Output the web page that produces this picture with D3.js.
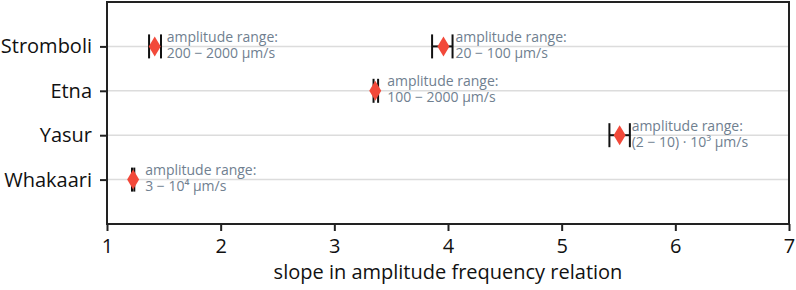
<!DOCTYPE html>
<html>
<head>
<meta charset="utf-8">
<script src="https://cdn.jsdelivr.net/npm/d3@7"></script>
<style>
  body { margin: 0; background: #fff; }
  text { font-family: "Open Sans", sans-serif; }
</style>
</head>
<body>
<div id="chart"></div>
<script>
// volcano rows, top to bottom
const volcanoes = ['Stromboli', 'Etna', 'Yasur', 'Whakaari'];

// one entry per measurement: slope estimate and its error range
const pointVolcano = ['Stromboli', 'Stromboli', 'Etna', 'Yasur', 'Whakaari'];
const slope = [1.42, 3.96, 3.36, 5.51, 1.23];
const slopeLow = [1.37, 3.86, 3.345, 5.42, 1.22];
const slopeHigh = [1.475, 4.04, 3.385, 5.60, 1.24];
const rangeLabel = [
  '200 − 2000 μm/s',
  '20 − 100 μm/s',
  '100 − 2000 μm/s',
  '(2 − 10) · 10³ μm/s',
  '3 − 10⁴ μm/s'
];

const xTicks = [1, 2, 3, 4, 5, 6, 7];

const W = 796, H = 290;
const margin = {top: 2, left: 107, right: 7, bottom: 66};
const width = W - margin.left - margin.right,
      height = H - margin.top - margin.bottom;

const svg = d3.select('#chart').append('svg')
  .attr('width', W)
  .attr('height', H);

const g = svg.append('g')
  .attr('transform', 'translate(' + margin.left + ',' + margin.top + ')');

const x = d3.scaleLinear().domain([1, 7]).range([0, width]);
const y = d3.scaleLinear().domain([0, volcanoes.length + 1]).range([0, height]);
const yOf = name => y(volcanoes.indexOf(name) + 1);

// grid lines
g.append('g').selectAll('line')
  .data(volcanoes)
  .enter().append('line')
  .attr('x1', 0).attr('x2', width)
  .attr('y1', d => yOf(d)).attr('y2', d => yOf(d))
  .attr('stroke', '#dcdcdc')
  .attr('stroke-width', 1.5);

// frame
g.append('rect')
  .attr('x', 0).attr('y', 0)
  .attr('width', width).attr('height', height)
  .attr('fill', 'none')
  .attr('stroke', '#222')
  .attr('stroke-width', 2);

// x axis
const xAxis = g.append('g')
  .attr('transform', 'translate(0,' + height + ')')
  .call(d3.axisBottom(x).tickValues(xTicks).tickSize(7).tickFormat(d3.format('d')));
xAxis.select('.domain').remove();
xAxis.selectAll('line').attr('stroke', '#222').attr('stroke-width', 2);
xAxis.selectAll('text')
  .attr('y', 29).attr('dy', null)
  .attr('font-size', 20).attr('fill', '#111');

g.append('text')
  .attr('x', width / 2)
  .attr('y', height + 55)
  .attr('text-anchor', 'middle')
  .attr('font-size', 20)
  .attr('fill', '#111')
  .text('slope in amplitude frequency relation');

// y axis
const yAxis = g.append('g')
  .call(d3.axisLeft(y).tickValues(volcanoes.map((d, i) => i + 1))
    .tickFormat(d => volcanoes[d - 1]).tickSize(7).tickPadding(8));
yAxis.select('.domain').remove();
yAxis.selectAll('line').attr('stroke', '#222').attr('stroke-width', 2);
yAxis.selectAll('text').attr('font-size', 20).attr('fill', '#111');

const idx = d3.range(slope.length);

// error bars
const eb = g.append('g').selectAll('g')
  .data(idx)
  .enter().append('g');
eb.append('line')
  .attr('x1', i => x(slopeLow[i])).attr('x2', i => x(slopeHigh[i]))
  .attr('y1', i => yOf(pointVolcano[i])).attr('y2', i => yOf(pointVolcano[i]))
  .attr('stroke', '#111').attr('stroke-width', 2);
[slopeLow, slopeHigh].forEach(arr => {
  eb.append('line')
    .attr('x1', i => x(arr[i])).attr('x2', i => x(arr[i]))
    .attr('y1', i => yOf(pointVolcano[i]) - 12).attr('y2', i => yOf(pointVolcano[i]) + 12)
    .attr('stroke', '#111').attr('stroke-width', 2);
});

// diamonds
g.append('g').selectAll('path')
  .data(idx)
  .enter().append('path')
  .attr('transform', i => 'translate(' + x(slope[i]) + ',' + yOf(pointVolcano[i]) + ')')
  .attr('d', 'M0,-10L6,0L0,10L-6,0Z')
  .attr('fill', '#f2493a');

// annotations, two lines each
const ann = g.append('g').selectAll('g')
  .data(idx)
  .enter().append('g')
  .attr('font-size', 14)
  .attr('fill', '#708090');
ann.append('text')
  .attr('x', i => x(slope[i]) + 12)
  .attr('y', i => yOf(pointVolcano[i]) - 4.5)
  .text('amplitude range:');
ann.append('text')
  .attr('x', i => x(slope[i]) + 12)
  .attr('y', i => yOf(pointVolcano[i]) + 11.5)
  .text(i => rangeLabel[i]);
</script>
</body>
</html>
